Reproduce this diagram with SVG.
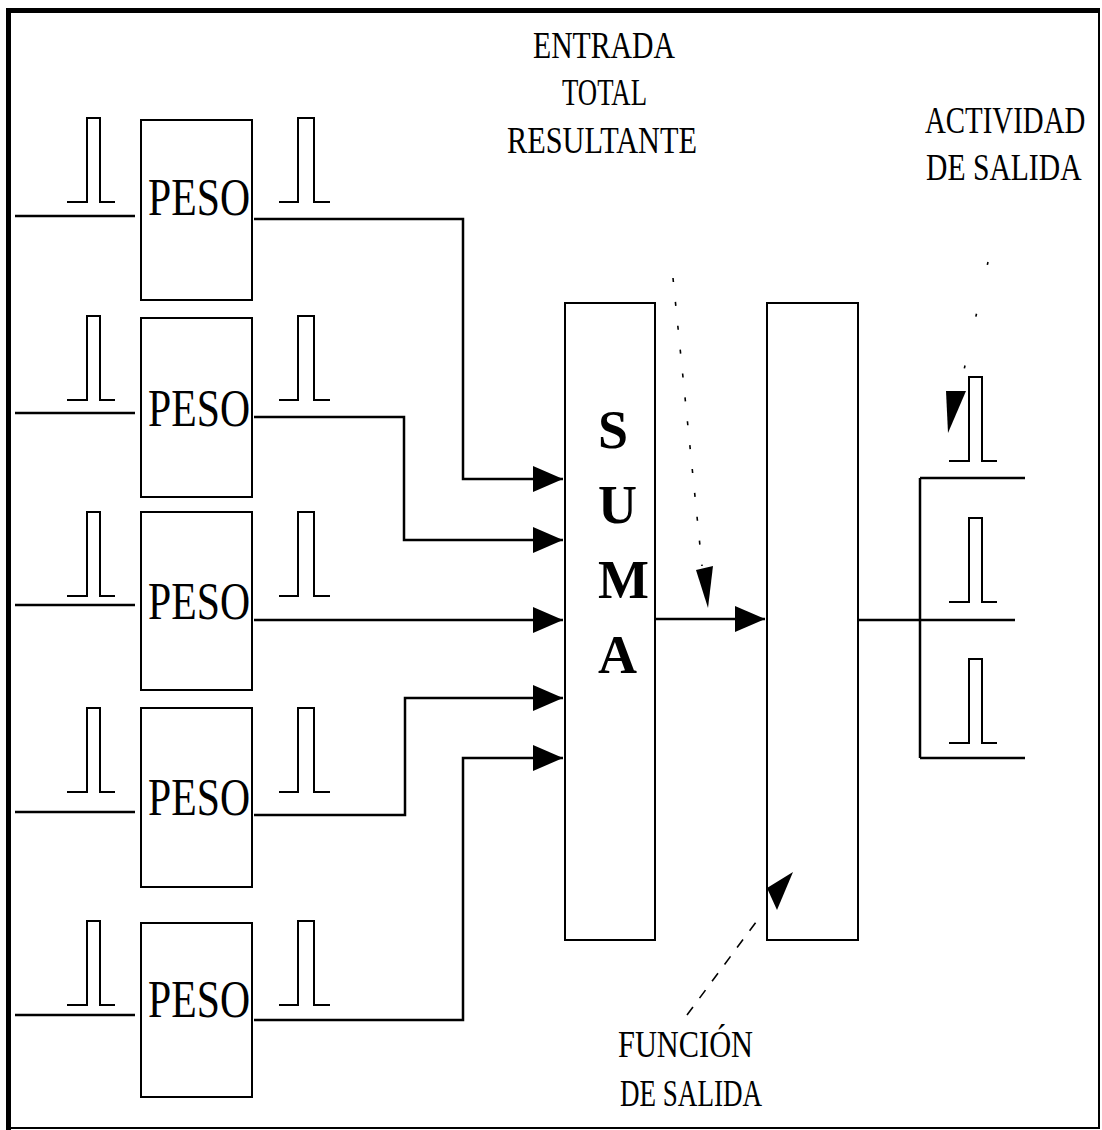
<svg xmlns="http://www.w3.org/2000/svg" xmlns:xlink="http://www.w3.org/1999/xlink" width="1102" height="1130" viewBox="0 0 1102 1130">
<style>
.box{fill:none;stroke:#000;stroke-width:2}
.wire{fill:none;stroke:#000;stroke-width:2.5}
.pulse{fill:none;stroke:#000;stroke-width:2}
.dash{fill:none;stroke:#000;stroke-width:1.6}
.lbl{font-family:"Liberation Serif","Times New Roman",serif;fill:#000}
.peso{font-size:52px}
.cap{font-size:38px}
.suma{font-size:54px;font-weight:bold}
</style>
<defs>
<marker id="arr" markerUnits="userSpaceOnUse" markerWidth="32" markerHeight="28" refX="30" refY="13" orient="auto">
<path d="M0,0 L30,13 L0,26 Z" fill="#000"/>
</marker>
<path id="pin" class="pulse" d="M0,84 H20 V0 H33 V84 H48"/>
<path id="pout" class="pulse" d="M0,84 H19 V0 H35 V84 H51"/>
</defs>
<rect width="1102" height="1130" fill="#fff"/>
<g id="frame">
<line x1="6" y1="10.5" x2="1100" y2="10.5" stroke="#000" stroke-width="5"/>
<line x1="8.5" y1="8" x2="8.5" y2="1130" stroke="#000" stroke-width="5"/>
<line x1="8" y1="1128" x2="1100" y2="1128" stroke="#000" stroke-width="2"/>
<line x1="1099" y1="10" x2="1099" y2="1128" stroke="#000" stroke-width="2"/>
</g>
<g id="peso1">
<rect class="box" x="141" y="120" width="111" height="180"/>
<line class="wire" x1="15" y1="216" x2="135" y2="216"/>
<use xlink:href="#pin" x="67" y="118"/>
<use xlink:href="#pout" x="279" y="118"/>
<text class="lbl peso" x="148" y="215" textLength="102" lengthAdjust="spacingAndGlyphs">PESO</text>
</g>
<g id="peso2">
<rect class="box" x="141" y="318" width="111" height="179"/>
<line class="wire" x1="15" y1="413" x2="135" y2="413"/>
<use xlink:href="#pin" x="67" y="316"/>
<use xlink:href="#pout" x="279" y="316"/>
<text class="lbl peso" x="148" y="426" textLength="102" lengthAdjust="spacingAndGlyphs">PESO</text>
</g>
<g id="peso3">
<rect class="box" x="141" y="512" width="111" height="178"/>
<line class="wire" x1="15" y1="605" x2="135" y2="605"/>
<use xlink:href="#pin" x="67" y="512"/>
<use xlink:href="#pout" x="279" y="512"/>
<text class="lbl peso" x="148" y="619" textLength="102" lengthAdjust="spacingAndGlyphs">PESO</text>
</g>
<g id="peso4">
<rect class="box" x="141" y="708" width="111" height="179"/>
<line class="wire" x1="15" y1="812" x2="135" y2="812"/>
<use xlink:href="#pin" x="67" y="708"/>
<use xlink:href="#pout" x="279" y="708"/>
<text class="lbl peso" x="148" y="815" textLength="102" lengthAdjust="spacingAndGlyphs">PESO</text>
</g>
<g id="peso5">
<rect class="box" x="141" y="923" width="111" height="174"/>
<line class="wire" x1="15" y1="1015" x2="135" y2="1015"/>
<use xlink:href="#pin" x="67" y="921"/>
<use xlink:href="#pout" x="279" y="921"/>
<text class="lbl peso" x="148" y="1017" textLength="102" lengthAdjust="spacingAndGlyphs">PESO</text>
</g>
<g id="suma">
<rect class="box" x="565" y="303" width="90" height="637"/>
<text class="lbl suma" x="598" y="448">S</text>
<text class="lbl suma" x="598" y="523">U</text>
<text class="lbl suma" x="598" y="598">M</text>
<text class="lbl suma" x="598" y="673">A</text>
</g>
<g id="funcion">
<rect class="box" x="767" y="303" width="91" height="637"/>
</g>
<g id="salida">
<line class="wire" x1="920" y1="478" x2="920" y2="758"/>
<line class="wire" x1="920" y1="478" x2="1025" y2="478"/>
<line class="wire" x1="920" y1="758" x2="1025" y2="758"/>
<use xlink:href="#pin" x="949" y="377"/>
<use xlink:href="#pin" x="949" y="518"/>
<use xlink:href="#pin" x="949" y="659"/>
</g>
<g id="connectors">
<path class="wire" d="M254,219 H463 V479 H563" marker-end="url(#arr)"/>
<path class="wire" d="M254,417 H404 V540 H563" marker-end="url(#arr)"/>
<path class="wire" d="M254,620 H563" marker-end="url(#arr)"/>
<path class="wire" d="M254,815 H405 V698 H563" marker-end="url(#arr)"/>
<path class="wire" d="M254,1020 H463 V758 H563" marker-end="url(#arr)"/>
<path class="wire" d="M655,619 H765" marker-end="url(#arr)"/>
<line class="wire" x1="858" y1="620" x2="1015" y2="620"/>
<line class="dash" x1="673" y1="278" x2="702" y2="566" stroke-dasharray="4 20"/>
<polygon points="696,570 713,566 708,608" fill="#000"/>
<line class="dash" x1="687" y1="1015" x2="762" y2="914" stroke-dasharray="10 11"/>
<polygon points="767,888 793,872 777,910" fill="#000"/>
<line class="dash" x1="988" y1="262" x2="960" y2="388" stroke-dasharray="3 50"/>
<polygon points="946,391 966,391 948,433" fill="#000"/>
</g>
<g id="labels">
<text class="lbl cap" x="533" y="58" textLength="142" lengthAdjust="spacingAndGlyphs">ENTRADA</text>
<text class="lbl cap" x="562" y="105" textLength="85" lengthAdjust="spacingAndGlyphs">TOTAL</text>
<text class="lbl cap" x="507" y="153" textLength="190" lengthAdjust="spacingAndGlyphs">RESULTANTE</text>
<text class="lbl cap" transform="matrix(0.76 0 0 1 925 133)">ACTIVIDAD</text>
<text class="lbl cap" transform="matrix(0.78 0 0 1 926 180)">DE SALIDA</text>
<text class="lbl cap" x="618" y="1057" textLength="135" lengthAdjust="spacingAndGlyphs">FUNCIÓN</text>
<text class="lbl cap" x="620" y="1106" textLength="142" lengthAdjust="spacingAndGlyphs">DE SALIDA</text>
</g>
</svg>
